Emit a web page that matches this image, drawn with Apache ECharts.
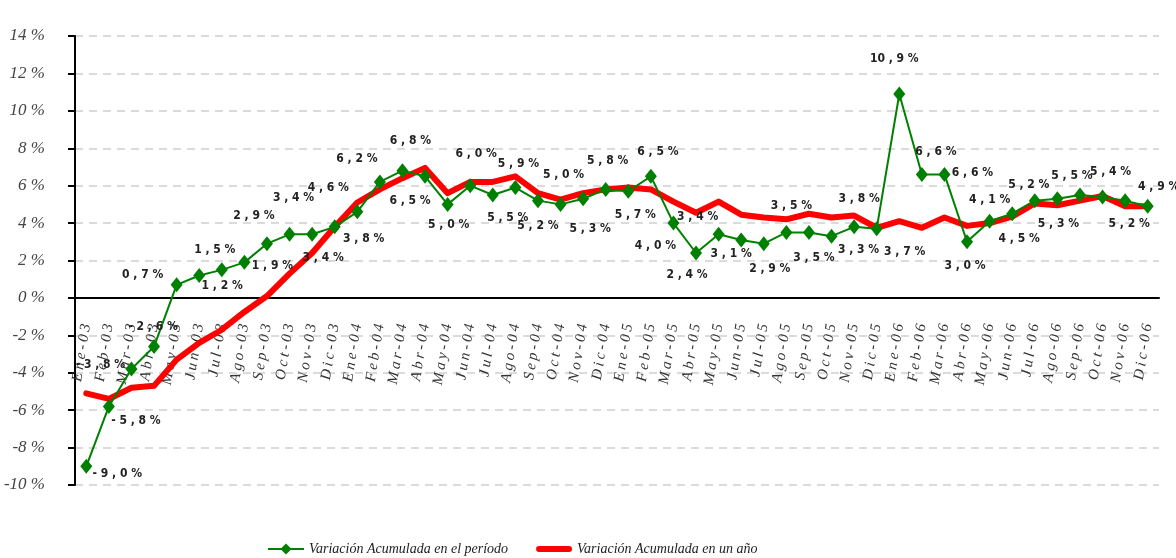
<!DOCTYPE html>
<html>
<head>
<meta charset="utf-8">
<script src="https://cdn.jsdelivr.net/npm/echarts@6/dist/echarts.min.js"></script>
<style>
html,body{margin:0;padding:0;background:#fff;}
#chart{width:1176px;height:558px;}
</style>
</head>
<body>
<div id="chart"></div>
<script>
// meses
const meses = [
  'Ene-03','Feb-03','Mar-03','Abr-03','May-03','Jun-03','Jul-03','Ago-03','Sep-03','Oct-03','Nov-03','Dic-03',
  'Ene-04','Feb-04','Mar-04','Abr-04','May-04','Jun-04','Jul-04','Ago-04','Sep-04','Oct-04','Nov-04','Dic-04',
  'Ene-05','Feb-05','Mar-05','Abr-05','May-05','Jun-05','Jul-05','Ago-05','Sep-05','Oct-05','Nov-05','Dic-05',
  'Ene-06','Feb-06','Mar-06','Abr-06','May-06','Jun-06','Jul-06','Ago-06','Sep-06','Oct-06','Nov-06','Dic-06'
];
// Variación Acumulada en el período
const periodo = [
  -9.0, -5.8, -3.8, -2.6, 0.7, 1.2, 1.5, 1.9, 2.9, 3.4, 3.4, 3.8,
  4.6, 6.2, 6.8, 6.5, 5.0, 6.0, 5.5, 5.9, 5.2, 5.0, 5.3, 5.8,
  5.7, 6.5, 4.0, 2.4, 3.4, 3.1, 2.9, 3.5, 3.5, 3.3, 3.8, 3.7,
  10.9, 6.6, 6.6, 3.0, 4.1, 4.5, 5.2, 5.3, 5.5, 5.4, 5.2, 4.9
];
// Variación Acumulada en un año
const anual = [
  -5.1, -5.4, -4.8, -4.7, -3.3, -2.4, -1.7, -0.75, 0.1, 1.3, 2.4, 3.8,
  5.1, 5.8, 6.4, 6.95, 5.6, 6.2, 6.2, 6.5, 5.6, 5.25, 5.6, 5.8,
  5.9, 5.8, 5.15, 4.55, 5.15, 4.45, 4.3, 4.2, 4.5, 4.3, 4.4, 3.75,
  4.1, 3.75, 4.3, 3.85, 4.0, 4.35, 5.05, 4.95, 5.2, 5.45, 4.9, 4.9
];
// desplazamiento de cada etiqueta respecto a su punto
const etiquetaOffset = [
  [31,8],[27,14],[-31,-4],[-1,-20],[-34,-10],[23,10],[-7,-20],[28,4],[-13,-28],[4,-36],[11,24],[29,12],
  [-29,-24],[-23,-23],[8,-30],[-15,25],[1,20],[6,-32],[15,23],[3,-24],[0,25],[3,-30],[7,30],[2,-29],
  [7,24],[7,-24],[-18,23],[-9,22],[-21,-17],[-10,14],[6,25],[5,-27],[5,25],[27,14],[5,-28],[28,23],
  [-5,-35],[14,-23],[28,-2],[-2,24],[0,-21],[7,25],[-6,-16],[1,25],[-8,-19],[8,-25],[4,23],[11,-19]
];

const serif = "'Liberation Serif', 'DejaVu Serif', serif";
const narrow = "'Liberation Sans Narrow', 'DejaVu Sans Condensed', 'Liberation Sans', sans-serif";

function espaciar(s, sep){
  return s.split('').join(sep);
}
function pct(v){
  return v.toFixed(1).replace('-', '- ').replace('.', ' , ') + ' %';
}

const option = {
  animation: false,
  backgroundColor: '#fff',
  grid: {left: 75, right: 17, top: 36, bottom: 73, containLabel: false, outerBoundsMode: 'none'},
  legend: {
    data: [
      {name: 'Variación Acumulada en el período'},
      {name: 'Variación Acumulada en un año', icon: 'path://M3,0H33A3,3 0 0 1 33,6H3A3,3 0 0 1 3,0Z'}
    ],
    left: 262,
    top: 537,
    itemWidth: 36,
    itemHeight: 14,
    itemGap: 28,
    textStyle: {fontFamily: serif, fontStyle: 'italic', fontSize: 14, color: '#222'}
  },
  xAxis: {
    type: 'category',
    data: meses,
    axisLine: {onZero: true, lineStyle: {color: '#000', width: 2}},
    axisTick: {length: 6, lineStyle: {color: '#000', width: 2}},
    axisLabel: {
      interval: 0,
      rotate: 81,
      margin: -161,
      fontFamily: serif,
      fontStyle: 'italic',
      fontSize: 15,
      color: '#333',
      formatter: function(m){ return espaciar(m, '\u2009'); }
    }
  },
  yAxis: {
    type: 'value',
    min: -10,
    max: 14,
    interval: 2,
    axisLine: {show: true, lineStyle: {color: '#000', width: 2}},
    axisTick: {show: true, length: 7, lineStyle: {color: '#000', width: 2}},
    axisLabel: {
      margin: 30,
      fontFamily: serif,
      fontStyle: 'italic',
      fontSize: 17,
      color: '#444',
      formatter: function(v){ return v + ' %'; }
    },
    splitLine: {lineStyle: {color: '#cfcfcf', width: 1.5, type: [8, 6]}}
  },
  series: [
    {
      name: 'Variación Acumulada en un año',
      type: 'line',
      data: anual,
      symbol: 'none',
      z: 2,
      lineStyle: {color: '#ff0000', width: 6, cap: 'round', join: 'round'},
      itemStyle: {color: '#ff0000'}
    },
    {
      name: 'Variación Acumulada en el período',
      type: 'line',
      z: 3,
      data: periodo.map(function(v, i){
        return {value: v, label: {offset: etiquetaOffset[i]}};
      }),
      symbol: 'diamond',
      symbolSize: [12, 15],
      lineStyle: {color: '#008000', width: 2},
      itemStyle: {color: '#008000'},
      label: {
        show: true,
        position: 'inside',
        fontFamily: narrow,
        fontWeight: 'bold',
        fontSize: 12,
        color: '#222',
        formatter: function(p){ return pct(p.value); }
      }
    }
  ]
};

const chart = echarts.init(document.getElementById('chart'));
chart.setOption(option);
</script>
</body>
</html>
